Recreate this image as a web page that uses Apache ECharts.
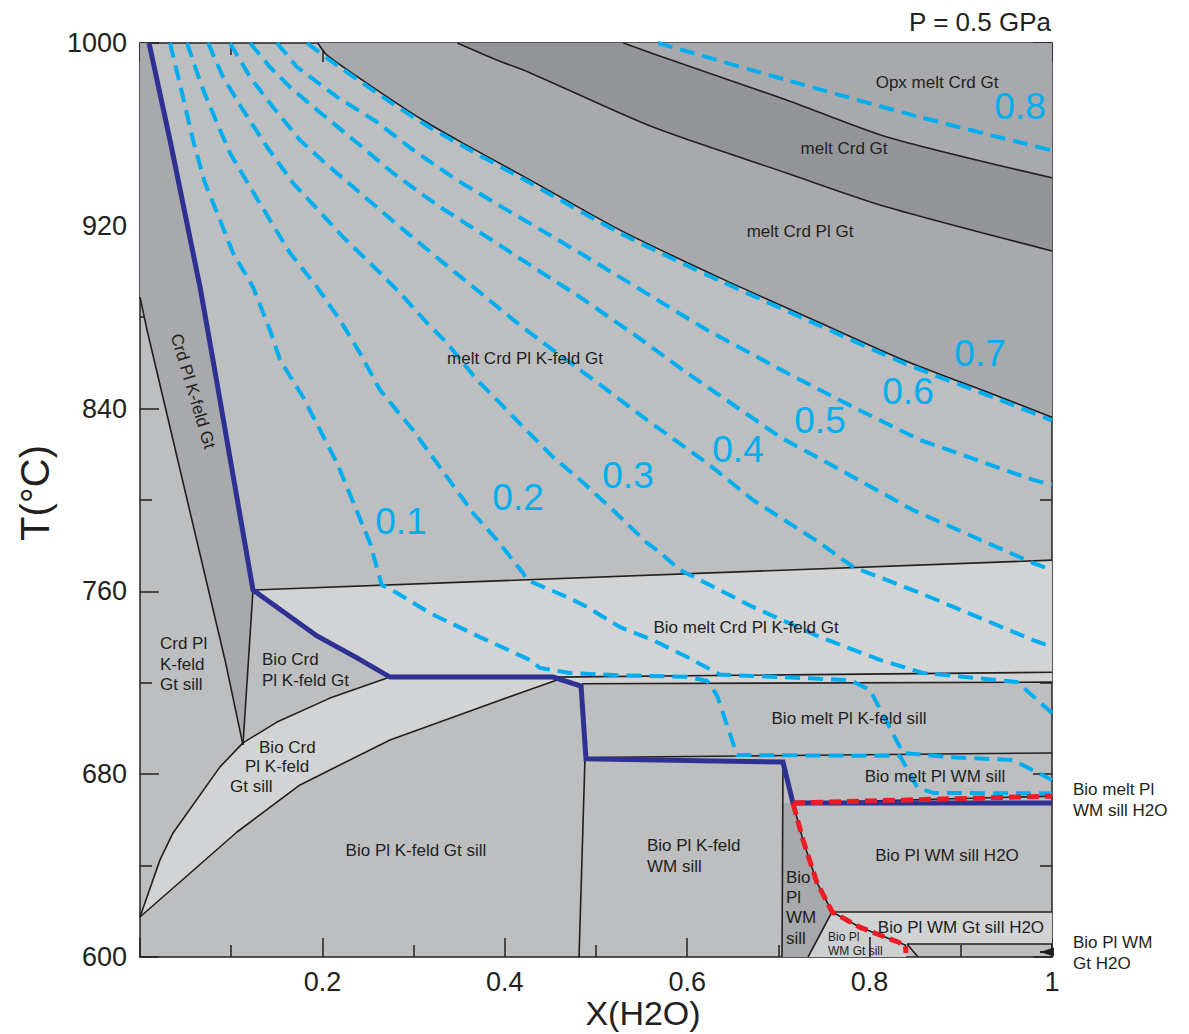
<!DOCTYPE html>
<html><head><meta charset="utf-8">
<script src="https://cdn.jsdelivr.net/npm/echarts@6/dist/echarts.min.js"></script>
<style>html,body{margin:0;padding:0;background:#fff}#c{width:1189px;height:1034px}</style>
</head><body><div id="c"></div>
<script>
// ================= DATA (x = X(H2O), t = T in °C) =================
const xTickValues = [0, 0.2, 0.4, 0.6, 0.8, 1];
const tTickValues = [600, 680, 760, 840, 920, 1000];

// phase boundaries (black)
const curveA = [[0.195,1000],[0.205,994.7],[0.26,979.4],[0.31,966.3],[0.354,956.2],[0.428,940.0],[0.526,918.2],[0.636,897.2],[0.746,877.5],[0.837,861.3],[0.943,845.1],[1.0,836.2]];
const curveB = [[0.348,1000],[0.391,992.6],[0.428,986.9],[0.5625,963.2],[0.709,943.1],[0.819,928.2],[1.0,909.0]];
const curveC = [[0.53,1000],[0.592,991.2],[0.709,975.1],[0.819,958.9],[1.0,941.0]];
const leftLine = [[0,888.8],[0.0077,874.4],[0.0932,730.0],[0.1129,692.8]];
const tipLine = [[0.1129,692.8],[0.1239,760.6]];
const line760 = [[0.1239,760.6],[1,773.7]];
const bandUpper = [[0,617.5],[0.0219,642.5],[0.0362,654.3],[0.0877,683.2],[0.1129,693.7],[0.1502,702.8],[0.2083,713.3],[0.2741,722.5]];
const bandLower = [[0,617.5],[0.1064,654.7],[0.1754,675.3],[0.2741,695.0],[0.3651,708.1],[0.42,716.0],[0.4572,721.2]];
const lineUpper724 = [[0.2741,722.5],[0.4529,722.5],[1,724.6]];
const lineLower720 = [[0.4846,719.6],[1,720.3]];
const vertKfeld = [[0.4814,600],[0.4879,686.7]];
const line688 = [[0.489,687.3],[1,689.3]];
const vertWM = [[0.704,600],[0.705,685.3]];
const gtLine = [[0.7325,600],[0.7588,619.7]];
const line620 = [[0.7588,619.7],[1,619.7]];
const line606 = [[0.841,605.7],[1,605.7]];
const gtFoot = [[0.841,605.7],[0.8531,600]];
const gtVert = [[0.8004,608.8],[0.8004,600]];
const pointerTop = [[1,669.6],[1.0165,669.6]];
const pointerBottom = [[1.0165,602.2],[0.9868,602.2]];

// solidus (thick blue) and H2O-saturation line (red dashed)
const solidus = [[0.0099,1000],[0.0329,957.5],[0.0658,893.2],[0.080,861.3],[0.1239,760.6],[0.1941,740.5],[0.2379,730.9],[0.2741,722.5],[0.4529,722.5],[0.4836,718.6],[0.489,686.7],[0.705,685.3],[0.716,667.4],[1,667.4]];
const redCurve = [[0.716,667.4],[0.727,651.2],[0.742,632.8],[0.759,619.7],[0.789,613.1],[0.839,605.3],[0.840,601.8]];
const redTop = [[0.716,667.4],[1,670.4]];

// isopleths (cyan dashed)
const iso01 = [[0.0329,1000],[0.0461,978.1],[0.0581,957.5],[0.0713,938.7],[0.0877,922.5],[0.102,908.1],[0.1239,893.2],[0.1425,874.4],[0.1535,861.3],[0.1787,845.1],[0.216,816.2],[0.2522,781.2],[0.265,762.8],[0.2818,759.3],[0.318,750.5],[0.3728,740.0],[0.4276,730.0],[0.4386,726.5],[0.4715,724.3],[0.5263,723.3],[0.5998,722.6],[0.6217,720.9],[0.6327,714.5],[0.6546,688.4],[0.8333,688.0],[0.852,674.4],[0.8695,671.8],[1,671.6]];
const iso02 = [[0.0515,1000],[0.068,980.7],[0.0844,965.0],[0.0987,951.9],[0.1206,937.0],[0.1425,922.5],[0.1645,908.1],[0.1941,893.2],[0.2193,878.8],[0.2412,864.3],[0.2632,848.1],[0.2993,830.6],[0.3366,810.1],[0.3651,794.3],[0.3914,782.5],[0.42,768.1],[0.4243,765.0],[0.4682,757.5],[0.4901,753.2],[0.5263,744.4],[0.5625,738.7],[0.5998,731.3],[0.636,723.6],[0.7785,721.2],[0.8004,716.9],[0.8366,689.3],[0.8849,687.5],[0.9572,686.2],[1,677.5]];
const iso03 = [[0.0746,1000],[0.091,985.1],[0.1129,970.7],[0.1393,954.5],[0.1678,938.7],[0.1974,926.0],[0.2226,915.1],[0.2599,900.7],[0.2851,890.6],[0.3147,877.5],[0.3366,868.7],[0.3695,852.5],[0.3914,843.8],[0.42,832.0],[0.4529,818.8],[0.4825,808.8],[0.5186,795.6],[0.5559,781.2],[0.5669,778.1],[0.5921,769.4],[0.6721,753.2],[0.7456,740.0],[0.8114,730.0],[0.8586,724.3],[0.9616,720.4],[1,706.8]];
const iso04 = [[0.0987,1000],[0.1206,985.1],[0.1458,972.0],[0.1754,957.5],[0.2029,947.5],[0.2412,934.4],[0.2851,919.5],[0.3289,905.0],[0.3695,891.9],[0.4134,877.5],[0.4529,865.6],[0.5077,849.5],[0.5559,835.0],[0.6217,816.2],[0.6721,800.0],[0.7456,781.2],[0.7818,770.7],[0.8553,759.3],[0.9792,738.7],[1,735.7]];
const iso05 = [[0.1206,1000],[0.1425,989.5],[0.1645,980.7],[0.1941,970.7],[0.2303,958.9],[0.2774,943.1],[0.3289,928.2],[0.3805,915.1],[0.4309,902.0],[0.4825,888.8],[0.5395,873.1],[0.5998,855.6],[0.7018,827.6],[0.7818,810.1],[0.8476,795.6],[0.9792,772.4],[1,769.4]];
const iso06 = [[0.1502,1000],[0.1721,989.5],[0.216,976.4],[0.2599,965.4],[0.2993,953.2],[0.3476,940.0],[0.4024,926.9],[0.4529,915.1],[0.4825,908.1],[0.6217,874.4],[0.7094,855.6],[0.7818,840.7],[0.8553,826.3],[0.9792,808.8],[1,806.6]];
const iso07 = [[0.1831,1000],[0.205,993.4],[0.26,978.1],[0.31,965.0],[0.354,954.9],[0.428,938.7],[0.526,916.9],[0.636,895.9],[0.746,876.2],[0.837,860.0],[0.943,843.8],[1.0,834.8]];
const iso08 = [[0.568,1000],[0.709,983.8],[0.855,967.6],[1,953.0]];

// labels: [text, x, t]
const regionLabels = [
  ['Opx melt Crd Gt', 0.874, 982.5],
  ['melt Crd Gt', 0.772, 954.0],
  ['melt Crd Pl Gt', 0.7237, 917.7],
  ['melt Crd Pl K-feld Gt', 0.4221, 862.1],
  ['Bio melt Crd Pl K-feld Gt', 0.6645, 744.0],
  ['Bio melt Pl K-feld sill', 0.7774, 704.2],
  ['Bio melt Pl WM sill', 0.8717, 678.8],
  ['Bio Pl K-feld Gt sill', 0.3026, 646.4],
  ['Bio Pl WM sill H2O', 0.8849, 644.6],
  ['Bio Pl WM Gt sill H2O', 0.9002, 612.7]
];
const leftAlignedLabels = [
  ['Crd Pl\nK-feld\nGt sill', 0.0219, 728.2],
  ['Bio Crd\nPl K-feld Gt', 0.1338, 725.6],
  ['Bio Crd', 0.1305, 691.9],
  ['Pl K-feld', 0.1151, 683.2],
  ['Gt sill', 0.0987, 674.4],
  ['Bio Pl K-feld\nWM sill', 0.5559, 644.2],
  ['Bio\nPl\nWM\nsill', 0.7083, 621.6],
  ['Bio melt Pl\nWM sill H2O', 1.023, 668.7],
  ['Bio Pl WM\nGt H2O', 1.023, 601.8]
];
const smallLabels = [['Bio Pl\nWM Gt sill', 0.7544, 605.9]];
const rotatedLabels = [['Crd Pl K-feld Gt', 0.058, 847.6]];
const isoLabels = [['0.1',0.2862,790.4],['0.2',0.4145,801.3],['0.3',0.5351,810.9],['0.4',0.6557,822.3],['0.5',0.7456,835.0],['0.6',0.8421,847.3],['0.7',0.9211,863.9],['0.8',0.9649,972.0]];
const arrowTips = [[0.9868,602.2]];

// ================= STYLE / BUILD =================
const INK = '#231f20';
const FONT = "'Liberation Sans', Arial, Helvetica, sans-serif";
const C_BASE = '#bcbec0', C_MID = '#a7a9ac', C_DARK = '#939598', C_LIGHT = '#d1d3d4';
const CYAN = '#00aeef', BLUE = '#2e3192', RED = '#ed1c24';

const rev = a => a.slice().reverse();
const polygons = [
  {pts: curveC.concat([[1,1000]]), fill: C_MID},
  {pts: curveB.concat(rev(curveC)), fill: C_DARK},
  {pts: curveA.concat(rev(curveB)), fill: C_MID},
  {pts: [[0,1000]].concat(solidus.slice(0,5), [tipLine[0]], rev(leftLine).slice(1)), fill: C_MID},
  {pts: line760.concat([[1,720.3],[0.4846,719.6]], rev(solidus.slice(4,9))), fill: C_LIGHT},
  {pts: bandUpper.concat([[0.4529,722.5]], rev(bandLower)), fill: C_LIGHT},
  {pts: [[0.704,600],[0.705,667.4]].concat(redCurve.slice(0,4), [[0.7325,600]]), fill: C_MID},
  {pts: [[0.7588,619.7],[1,619.7],[1,605.7],[0.8388,605.7],[0.789,613.1]], fill: C_LIGHT},
  {pts: [[0.7325,600],[0.7588,619.7],[0.789,613.1],[0.839,605.3],[0.840,600]], fill: '#cdcfd1'}
];

const series = [];
series.push({
  type: 'custom', z: 1, silent: true, clip: false,
  data: polygons.map(p => p.pts[0]),
  renderItem: (params, api) => {
    const p = polygons[params.dataIndex];
    return {type: 'polygon', shape: {points: p.pts.map(q => api.coord(q))}, style: {fill: p.fill}};
  }
});

function addLine(data, style, z, extra) {
  series.push(Object.assign({
    type: 'line', data: data, symbol: 'none', showSymbol: false, silent: true, z: z,
    lineStyle: style, animation: false
  }, extra || {}));
}
const blackStyle = {color: INK, width: 1.6};
[curveA, curveB, curveC].forEach(c => addLine(c, blackStyle, 2, {smooth: 0.25}));
[leftLine, tipLine, line760, bandUpper, bandLower, lineUpper724, lineLower720, vertKfeld, line688, vertWM,
 gtLine, line620, line606, gtFoot, gtVert, redCurve, redTop].forEach(c => addLine(c, blackStyle, 2));
[pointerTop, pointerBottom].forEach(c => addLine(c, {color: INK, width: 2}, 2, {clip: false}));

const isoStyle = {color: CYAN, width: 4, type: [15, 8]};
[iso01, iso02, iso03, iso04, iso05, iso06].forEach(c => addLine(c, isoStyle, 3));
addLine(iso07, isoStyle, 3, {smooth: 0.25});
addLine(iso08, isoStyle, 3, {smooth: 0.25});
addLine(solidus, {color: BLUE, width: 5, join: 'miter'}, 4);
addLine(redCurve, {color: RED, width: 5, type: [12, 6]}, 5);
addLine(redTop, {color: RED, width: 5, type: [12, 6]}, 5);

// arrow head
series.push({
  type: 'custom', z: 6, silent: true, clip: false, data: arrowTips,
  renderItem: (params, api) => {
    const p = api.coord([api.value(0), api.value(1)]);
    return {type: 'polygon', shape: {points: [[p[0], p[1]], [p[0] + 14, p[1] - 4.5], [p[0] + 14, p[1] + 4.5]]}, style: {fill: INK}};
  }
});

// text
const texts = [];
regionLabels.forEach(l => texts.push({t: l[0], x: l[1], y: l[2], size: 17, align: 'center', color: INK, lh: 20}));
leftAlignedLabels.forEach(l => texts.push({t: l[0], x: l[1], y: l[2], size: 17, align: 'left', color: INK, lh: 20.3}));
smallLabels.forEach(l => texts.push({t: l[0], x: l[1], y: l[2], size: 12, align: 'left', color: INK, lh: 14}));
rotatedLabels.forEach(l => texts.push({t: l[0], x: l[1], y: l[2], size: 17, align: 'center', color: INK, lh: 20, rot: -1.279}));
isoLabels.forEach(l => texts.push({t: l[0], x: l[1], y: l[2], size: 37, align: 'center', color: CYAN, lh: 40}));
series.push({
  type: 'custom', z: 10, silent: true, clip: false,
  data: texts.map(o => [o.x, o.y]),
  renderItem: (params, api) => {
    const o = texts[params.dataIndex];
    const p = api.coord([o.x, o.y]);
    return {type: 'text', x: p[0], y: p[1], rotation: o.rot || 0,
      style: {text: o.t, fill: o.color, fontSize: o.size, fontFamily: FONT, align: o.align, verticalAlign: 'middle', lineHeight: o.lh}};
  }
});

const axisLineStyle = {color: INK, width: 1.5};
function xAxisCfg(pos, labels) {
  return {
    type: 'value', position: pos, min: xTickValues[0], max: xTickValues[xTickValues.length - 1], interval: 0.2,
    axisLine: {show: true, onZero: false, lineStyle: axisLineStyle},
    axisTick: {show: true, inside: true, length: 19, lineStyle: axisLineStyle},
    minorTick: {show: true, splitNumber: 2, length: 12, lineStyle: axisLineStyle},
    splitLine: {show: false}, minorSplitLine: {show: false},
    axisLabel: {show: labels, margin: 11, fontSize: 27, lineHeight: 27, color: INK, fontFamily: FONT,
      formatter: v => (Math.abs(v) < 1e-9 ? '' : String(+(+v).toFixed(1)))}
  };
}
function yAxisCfg(pos, labels) {
  return {
    type: 'value', position: pos, min: tTickValues[0], max: tTickValues[tTickValues.length - 1], interval: 80,
    axisLine: {show: true, onZero: false, lineStyle: axisLineStyle},
    axisTick: {show: true, inside: true, length: 19, lineStyle: axisLineStyle},
    minorTick: {show: true, splitNumber: 2, length: 12, lineStyle: axisLineStyle},
    splitLine: {show: false}, minorSplitLine: {show: false},
    axisLabel: {show: labels, margin: 13, fontSize: 27, color: INK, fontFamily: FONT, formatter: v => String(v)}
  };
}

const chart = echarts.init(document.getElementById('c'), null, {renderer: 'svg', width: 1189, height: 1034});
chart.setOption({
  animation: false,
  backgroundColor: '#ffffff',
  grid: {left: 140, right: 137, top: 43, bottom: 77, show: true, backgroundColor: C_BASE, borderWidth: 0,
    containLabel: false, outerBoundsMode: 'none'},
  xAxis: [xAxisCfg('bottom', true), xAxisCfg('top', false)],
  yAxis: [yAxisCfg('left', true), yAxisCfg('right', false)],
  graphic: [
    {type: 'text', x: 1051, y: 22, z: 100,
      style: {text: 'P = 0.5 GPa', align: 'right', verticalAlign: 'middle', fontSize: 26, fill: INK, fontFamily: FONT}},
    {type: 'text', x: 643, y: 1013, z: 100,
      style: {text: 'X(H2O)', align: 'center', verticalAlign: 'middle', fontSize: 34, lineHeight: 34, fill: INK, fontFamily: FONT}},
    {type: 'text', x: 35, y: 493, rotation: Math.PI / 2, z: 100,
      style: {text: 'T(°C)', align: 'center', verticalAlign: 'middle', fontSize: 40, fill: INK, fontFamily: FONT}}
  ],
  series: series
});
</script>
</body></html>
